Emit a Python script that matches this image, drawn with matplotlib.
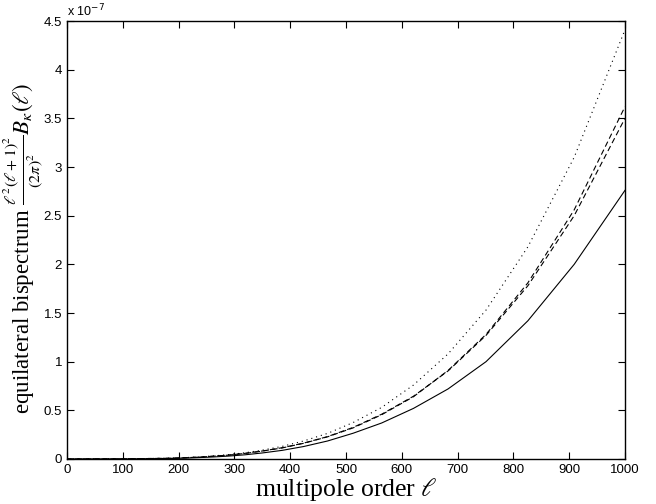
import matplotlib
matplotlib.use("Agg")
import matplotlib.pyplot as plt
from matplotlib.ticker import FuncFormatter

plt.rcParams["mathtext.fontset"] = "stix"

# multipole orders at which the bispectra were evaluated
ell = [2, 100, 149, 164, 180, 198, 218, 239, 263, 290, 319, 350, 386, 424,
       467, 513, 564, 621, 683, 751, 826, 909, 1000]

SCALE = 1e-7  # values below are in units of 1e-7

b_solid = [0.0, 0.001, 0.0035, 0.004, 0.005, 0.007, 0.010, 0.015, 0.021, 0.030,
           0.043, 0.062, 0.089, 0.128, 0.185, 0.265, 0.37, 0.52, 0.72, 1.00,
           1.42, 2.00, 2.76]
b_dash1 = [0.0, 0.0015, 0.005, 0.006, 0.007, 0.010, 0.0145, 0.020, 0.029, 0.040,
           0.057, 0.081, 0.114, 0.161, 0.228, 0.32, 0.455, 0.64, 0.91, 1.28,
           1.81, 2.56, 3.62]
b_dash2 = [0.0, 0.0015, 0.005, 0.006, 0.007, 0.010, 0.0145, 0.020, 0.029, 0.040,
           0.058, 0.082, 0.116, 0.163, 0.230, 0.325, 0.46, 0.645, 0.905, 1.27,
           1.78, 2.50, 3.50]
b_dot = [0.0, 0.0016, 0.005, 0.006, 0.0078, 0.011, 0.016, 0.022, 0.032, 0.045,
         0.064, 0.091, 0.13, 0.185, 0.263, 0.375, 0.53, 0.76, 1.08, 1.53,
         2.18, 3.10, 4.41]

xticks = [0, 100, 200, 300, 400, 500, 600, 700, 800, 900, 1000]
yticks = [0, 0.5, 1, 1.5, 2, 2.5, 3, 3.5, 4, 4.5]

fig = plt.figure(figsize=(6.56, 5.04), dpi=100)
ax = fig.add_axes([0.1021, 0.0893, 0.8506, 0.869])

lw = 0.8
ax.plot(ell, [v * SCALE for v in b_solid], color="black", lw=lw, ls="-")
ax.plot(ell, [v * SCALE for v in b_dash1], color="black", lw=lw, ls=(0, (5, 3)))
ax.plot(ell, [v * SCALE for v in b_dash2], color="black", lw=lw, ls=(2, (5, 3)))
ax.plot(ell, [v * SCALE for v in b_dot], color="black", lw=lw, ls=(0, (1, 3.5)))

ax.set_xlim(0, 1000)
ax.set_ylim(0, 4.5 * SCALE)
ax.set_xticks(xticks)
ax.set_yticks([t * SCALE for t in yticks])
ax.yaxis.set_major_formatter(FuncFormatter(lambda v, p: f"{v / SCALE:g}"))

ax.tick_params(direction="in", top=True, right=True, length=5, width=0.8,
               labelsize=9.5)
for lab in ax.get_xticklabels() + ax.get_yticklabels():
    lab.set_family(["Liberation Sans", "DejaVu Sans"])
for s in ax.spines.values():
    s.set_linewidth(1.0)

ax.text(0.0, 1.005, r"x 10$^{-7}$", transform=ax.transAxes, ha="left",
        va="bottom", fontsize=9, family="Liberation Sans",
        math_fontfamily="dejavusans")

ax.set_xlabel(r"multipole order $\ell$", fontsize=18.5, family="Liberation Serif",
              labelpad=0)
ax.set_ylabel(r"equilateral bispectrum $\frac{\ell^2(\ell+1)^2}{(2\pi)^2}B_\kappa(\ell)$",
              fontsize=16.5, family="Liberation Serif")
ax.yaxis.set_label_coords(-0.040, 0.48)

fig.savefig("out.png", dpi=100)
